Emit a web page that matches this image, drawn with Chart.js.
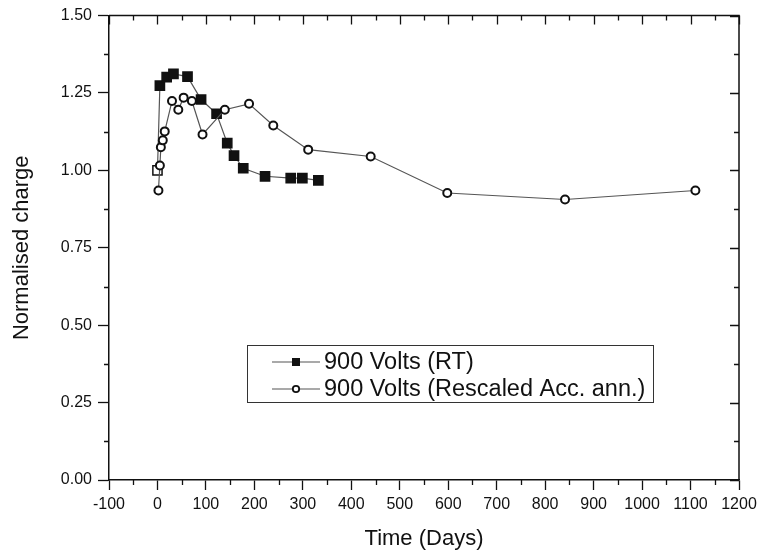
<!DOCTYPE html>
<html>
<head>
<meta charset="utf-8">
<script src="https://cdn.jsdelivr.net/npm/chart.js@4.4.0/dist/chart.umd.min.js"></script>
<style>
html, body { margin: 0; padding: 0; background: #fff; }
#wrap { width: 762px; height: 553px; }
</style>
</head>
<body>
<div id="wrap"><canvas id="chargeChart"></canvas></div>
<script>
// values
var rtDays = [0, 5, 19, 33, 62, 90, 122, 144, 158, 177, 222, 275, 299, 332];
var rtCharge = [1.00, 1.274, 1.301, 1.312, 1.303, 1.229, 1.183, 1.088, 1.048, 1.007, 0.981, 0.975, 0.975, 0.968];
var accDays = [2, 5, 7, 11, 15, 30, 43, 54, 71, 93, 139, 189, 239, 311, 440, 598, 841, 1110];
var accCharge = [0.935, 1.016, 1.075, 1.097, 1.126, 1.224, 1.196, 1.235, 1.224, 1.116, 1.196, 1.215, 1.145, 1.067, 1.045, 0.927, 0.906, 0.935];
var seriesNames = ['900 Volts (RT)', '900 Volts (Rescaled Acc. ann.)'];
var xMin = -100, xMax = 1200, xStep = 100;
var yMin = 0, yMax = 1.5, yStep = 0.25;

var FONT = '"Liberation Sans", Arial, sans-serif';
var INK = '#111';

function toPoints(xs, ys) {
    return xs.map(function (d, i) { return { x: d, y: ys[i] }; });
}

var framePlugin = {
    id: 'frame',
    afterDraw: function (chart) {
        var ctx = chart.ctx, a = chart.chartArea;
        var xs = chart.scales.x, ys = chart.scales.y;
        ctx.save();
        ctx.strokeStyle = INK;
        ctx.lineWidth = 1.5;
        ctx.beginPath();
        ctx.moveTo(a.left, a.top);
        ctx.lineTo(a.right, a.top);
        ctx.lineTo(a.right, a.bottom);
        ctx.stroke();

        // minor ticks outside, and inward ticks on top/right
        ctx.lineWidth = 1.3;
        ctx.beginPath();
        var v, p, major;
        for (v = xMin; v <= xMax; v += xStep / 2) {
            p = Math.round(xs.getPixelForValue(v)) + 0.5;
            major = Math.abs((v - xMin) % xStep) < 1e-6;
            if (!major) { ctx.moveTo(p, a.bottom); ctx.lineTo(p, a.bottom + 5); }
            ctx.moveTo(p, a.top); ctx.lineTo(p, a.top + (major ? 9 : 5));
        }
        for (v = yMin; v <= yMax + 1e-6; v += yStep / 2) {
            p = Math.round(ys.getPixelForValue(v)) + 0.5;
            major = Math.abs(((v - yMin) / yStep) - Math.round((v - yMin) / yStep)) < 1e-6;
            if (!major) { ctx.moveTo(a.left, p); ctx.lineTo(a.left - 5, p); }
            ctx.moveTo(a.right, p); ctx.lineTo(a.right - (major ? 9 : 5), p);
        }
        ctx.stroke();

        // legend box
        var bx = 247, by = 345, bw = 406, bh = 57;
        ctx.fillStyle = '#fff';
        ctx.fillRect(bx, by, bw, bh);
        ctx.strokeStyle = '#333';
        ctx.lineWidth = 1;
        ctx.strokeRect(bx + 0.5, by + 0.5, bw, bh);
        var rows = [by + 17, by + 44];
        chart.data.datasets.forEach(function (ds, i) {
            var y = rows[i];
            ctx.strokeStyle = '#555';
            ctx.lineWidth = 1.2;
            ctx.beginPath();
            ctx.moveTo(272, y); ctx.lineTo(320, y);
            ctx.stroke();
            if (i === 0) {
                ctx.fillStyle = INK;
                ctx.fillRect(292, y - 4, 8, 8);
            } else {
                ctx.fillStyle = '#fff';
                ctx.strokeStyle = INK;
                ctx.lineWidth = 1.8;
                ctx.beginPath();
                ctx.arc(296, y, 3.2, 0, Math.PI * 2);
                ctx.fill();
                ctx.stroke();
            }
            ctx.fillStyle = INK;
            ctx.font = '23.5px ' + FONT;
            ctx.textBaseline = 'middle';
            ctx.textAlign = 'left';
            ctx.fillText(ds.label, 324, y + 1);
        });
        ctx.restore();
    }
};

var ctx = document.getElementById('chargeChart').getContext('2d');
var charge_chart = new Chart(ctx, {
    type: 'line',
    data: {
        datasets: [{
            label: seriesNames[0],
            data: toPoints(rtDays, rtCharge),
            borderColor: '#555',
            borderWidth: 1.2,
            pointStyle: 'rect',
            pointRadius: 6.5,
            pointBorderWidth: 1.5,
            pointBorderColor: INK,
            pointBackgroundColor: rtDays.map(function (d, i) { return i === 0 ? '#fff' : INK; }),
            order: 2
        }, {
            label: seriesNames[1],
            data: toPoints(accDays, accCharge),
            borderColor: '#555',
            borderWidth: 1.2,
            pointStyle: 'circle',
            pointRadius: 4,
            pointBorderWidth: 2,
            pointBorderColor: INK,
            pointBackgroundColor: '#fff',
            order: 1
        }]
    },
    options: {
        responsive: true,
        maintainAspectRatio: false,
        animation: false,
        layout: { padding: { top: 15, right: 23, left: 0, bottom: 0 } },
        plugins: {
            legend: { display: false },
            tooltip: { enabled: false }
        },
        scales: {
            x: {
                type: 'linear',
                min: xMin,
                max: xMax,
                afterFit: function (s) { s.height = 73; },
                ticks: {
                    stepSize: xStep,
                    color: INK,
                    padding: 5,
                    maxRotation: 0,
                    font: { family: FONT, size: 16 },
                    callback: function (v) { return String(v); }
                },
                grid: { drawOnChartArea: false, tickLength: 10, tickColor: INK, tickWidth: 1.3 },
                border: { color: INK, width: 1.5 },
                title: {
                    display: true,
                    text: 'Time (Days)',
                    color: INK,
                    font: { family: FONT, size: 22 },
                    padding: { top: 0, bottom: 1 }
                }
            },
            y: {
                min: yMin,
                max: yMax,
                afterFit: function (s) { s.width = 109; },
                ticks: {
                    stepSize: yStep,
                    color: INK,
                    padding: 6,
                    font: { family: FONT, size: 16 },
                    callback: function (v) { return v.toFixed(2); }
                },
                grid: { drawOnChartArea: false, tickLength: 11, tickColor: INK, tickWidth: 1.3 },
                border: { color: INK, width: 1.5 },
                title: {
                    display: true,
                    text: 'Normalised charge',
                    color: INK,
                    font: { family: FONT, size: 22 },
                    padding: { top: 9, bottom: 0 }
                }
            }
        }
    },
    plugins: [framePlugin]
});
</script>
</body>
</html>
